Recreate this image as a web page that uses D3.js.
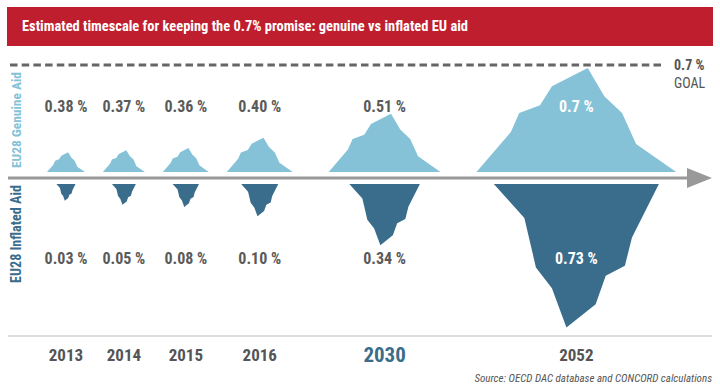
<!DOCTYPE html>
<html>
<head>
<meta charset="utf-8">
<script src="https://cdn.jsdelivr.net/npm/d3@7"></script>
<style>
  body { margin: 0; background: #fff; }
  svg text { font-family: "Liberation Sans Narrow", "Roboto Condensed", "Arial Narrow", sans-serif; }
</style>
</head>
<body>
<div id="chart"></div>
<script>
// data
const years = ["2013", "2014", "2015", "2016", "2030", "2052"];
const genuinePct = [0.38, 0.37, 0.36, 0.40, 0.51, 0.7];
const inflatedPct = [0.03, 0.05, 0.08, 0.10, 0.34, 0.73];
// relative size of each drawn mountain (2052 genuine = 100)
const genuineVolume = [19, 21, 23, 33, 56, 100];
const inflatedVolume = [16, 20, 22, 31, 59, 138];
const goalPct = 0.7;
const highlightYear = "2030";

const width = 720, height = 389;
const svg = d3.select("#chart").append("svg")
    .attr("width", width)
    .attr("height", height);

// shrink a text's font size so it spans about `target` px
const fit = (sel, target) => {
    const len = sel.node().getComputedTextLength();
    const fs = +sel.attr("font-size");
    if (len > 0) sel.attr("font-size", (fs * target / len).toFixed(2));
};

// title bar
svg.append("rect")
    .attr("x", 7).attr("y", 7)
    .attr("width", 706).attr("height", 39)
    .attr("fill", "#bf1e2e");
svg.append("text")
    .attr("x", 22).attr("y", 31)
    .attr("fill", "#fff")
    .attr("font-size", 15)
    .attr("font-weight", "bold")
    .text("Estimated timescale for keeping the 0.7% promise: genuine vs inflated EU aid")
    .call(fit, 446);

// mountain shapes (unit width / unit height)
const peakShape = [[0,0],[0.172,0.385],[0.214,0.567],[0.318,0.641],[0.378,0.824],[0.557,1],
    [0.64,0.728],[0.729,0.567],[0.799,0.269],[1,0]];
const keelShape = [[0,0],[0.185,0.237],[0.255,0.581],[0.352,0.726],[0.44,1],[0.617,0.837],
    [0.678,0.64],[0.794,0.57],[0.837,0.372],[1,0]];

const upBase = 172, downBase = 184, axisY = 178;
const vol = d3.scaleLinear().domain([0, 100]).range([0, 104]);
const peakRatio = 1.92, keelRatio = 1.15;

// horizontal layout: slot widths follow the genuine mountain width
const centers = [];
let cursor = 47;
years.forEach((y, i) => {
    const w = vol(genuineVolume[i]) * peakRatio;
    if (i > 0) {
        const gap = (+y - +years[i - 1]) > 1 ? 36 : 18;
        cursor += gap;
    }
    centers.push(cursor + w / 2);
    cursor += w;
});
const x = d3.scaleOrdinal().domain(years).range(centers);

const line = d3.line();

// genuine (above)
svg.append("g").selectAll("path")
    .data(years)
    .join("path")
    .attr("fill", "#85c2d7")
    .attr("d", (d, i) => {
        const h = vol(genuineVolume[i]), w = h * peakRatio;
        const x0 = x(d) - w / 2;
        return line(peakShape.map(p => [x0 + p[0] * w, upBase - p[1] * h])) + "Z";
    });

// inflated (below)
svg.append("g").selectAll("path")
    .data(years)
    .join("path")
    .attr("fill", "#3a6d8b")
    .attr("d", (d, i) => {
        const h = vol(inflatedVolume[i]), w = h * keelRatio;
        const x0 = x(d) - w / 2;
        return line(keelShape.map(p => [x0 + p[0] * w, downBase + p[1] * h])) + "Z";
    });

// goal line
const goalY = upBase - vol(100) - 3;
svg.append("line")
    .attr("x1", 10).attr("x2", 665)
    .attr("y1", goalY).attr("y2", goalY)
    .attr("stroke", "#666").attr("stroke-width", 3)
    .attr("stroke-dasharray", "7.5,4.2");
svg.append("text")
    .attr("x", 674).attr("y", goalY + 5)
    .attr("fill", "#555").attr("font-size", 14).attr("font-weight", "bold")
    .text(goalPct + " %");
svg.append("text")
    .attr("x", 674).attr("y", goalY + 23)
    .attr("fill", "#555").attr("font-size", 14)
    .text("GOAL");

// axis with arrow
svg.append("line")
    .attr("x1", 8).attr("x2", 690)
    .attr("y1", axisY).attr("y2", axisY)
    .attr("stroke", "#999").attr("stroke-width", 3);
svg.append("path")
    .attr("d", `M687,${axisY - 10}L712,${axisY}L687,${axisY + 10}Z`)
    .attr("fill", "#999");

// bottom rule
svg.append("line")
    .attr("x1", 8).attr("x2", 712)
    .attr("y1", 336).attr("y2", 336)
    .attr("stroke", "#ddd").attr("stroke-width", 2);

// value labels
const fmt = v => (v === 0.7 ? "0.7" : d3.format(".2f")(v)) + " %";
const last = years[years.length - 1];
svg.append("g").selectAll("text")
    .data(years)
    .join("text")
    .attr("x", d => x(d))
    .attr("y", 112)
    .attr("text-anchor", "middle")
    .attr("font-size", 16).attr("font-weight", "bold")
    .attr("fill", d => d === last ? "#fff" : "#5a5a5a")
    .text((d, i) => fmt(genuinePct[i]));
svg.append("g").selectAll("text")
    .data(years)
    .join("text")
    .attr("x", d => x(d))
    .attr("y", 264)
    .attr("text-anchor", "middle")
    .attr("font-size", 16).attr("font-weight", "bold")
    .attr("fill", d => d === last ? "#fff" : "#5a5a5a")
    .text((d, i) => fmt(inflatedPct[i]));

// year labels
svg.append("g").selectAll("text")
    .data(years)
    .join("text")
    .attr("x", d => x(d))
    .attr("y", d => d === highlightYear ? 362 : 361)
    .attr("text-anchor", "middle")
    .attr("font-weight", "bold")
    .attr("font-size", d => d === highlightYear ? 21 : 17)
    .attr("fill", d => d === highlightYear ? "#3a6d8b" : "#555")
    .text(d => d);

// side labels
svg.append("text")
    .attr("transform", "translate(21,120) rotate(-90)")
    .attr("text-anchor", "middle")
    .attr("font-size", 15).attr("font-weight", "bold")
    .attr("fill", "#85c2d7")
    .text("EU28 Genuine Aid")
    .call(fit, 96);
svg.append("text")
    .attr("transform", "translate(21,234) rotate(-90)")
    .attr("text-anchor", "middle")
    .attr("font-size", 15).attr("font-weight", "bold")
    .attr("fill", "#3a6d8b")
    .text("EU28 Inflated Aid")
    .call(fit, 98);

// source
svg.append("text")
    .attr("x", 712).attr("y", 382)
    .attr("text-anchor", "end")
    .attr("font-size", 11).attr("font-style", "italic")
    .attr("fill", "#555")
    .text("Source: OECD DAC database and CONCORD calculations");
</script>
</body>
</html>
